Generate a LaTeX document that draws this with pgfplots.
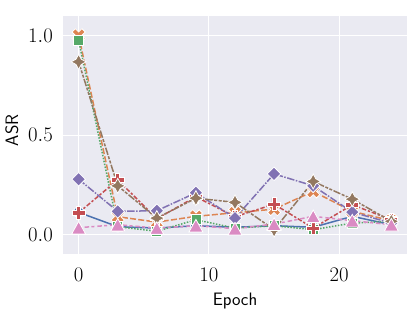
\documentclass[border=0pt]{standalone}
\usepackage{pgfplots}
\pgfplotsset{compat=1.18}
\definecolor{sbblue}{HTML}{4C72B0}
\definecolor{sborange}{HTML}{DD8452}
\definecolor{sbgreen}{HTML}{55A868}
\definecolor{sbred}{HTML}{C44E52}
\definecolor{sbpurple}{HTML}{8172B3}
\definecolor{sbbrown}{HTML}{937860}
\definecolor{sbpink}{HTML}{DA8BC3}
\definecolor{sbbg}{HTML}{EAEAF2}
\pgfdeclareplotmark{Pfill}{%
 \pgfpathmoveto{\pgfpoint{-0.333\pgfplotmarksize}{\pgfplotmarksize}}%
 \pgfpathlineto{\pgfpoint{0.333\pgfplotmarksize}{\pgfplotmarksize}}%
 \pgfpathlineto{\pgfpoint{0.333\pgfplotmarksize}{0.333\pgfplotmarksize}}%
 \pgfpathlineto{\pgfpoint{\pgfplotmarksize}{0.333\pgfplotmarksize}}%
 \pgfpathlineto{\pgfpoint{\pgfplotmarksize}{-0.333\pgfplotmarksize}}%
 \pgfpathlineto{\pgfpoint{0.333\pgfplotmarksize}{-0.333\pgfplotmarksize}}%
 \pgfpathlineto{\pgfpoint{0.333\pgfplotmarksize}{-\pgfplotmarksize}}%
 \pgfpathlineto{\pgfpoint{-0.333\pgfplotmarksize}{-\pgfplotmarksize}}%
 \pgfpathlineto{\pgfpoint{-0.333\pgfplotmarksize}{-0.333\pgfplotmarksize}}%
 \pgfpathlineto{\pgfpoint{-\pgfplotmarksize}{-0.333\pgfplotmarksize}}%
 \pgfpathlineto{\pgfpoint{-\pgfplotmarksize}{0.333\pgfplotmarksize}}%
 \pgfpathlineto{\pgfpoint{-0.333\pgfplotmarksize}{0.333\pgfplotmarksize}}%
 \pgfpathclose\pgfusepathqfillstroke}
\pgfdeclareplotmark{Xfill}{%
 \pgfpathmoveto{\pgfpoint{-0.943\pgfplotmarksize}{0.471\pgfplotmarksize}}%
 \pgfpathlineto{\pgfpoint{-0.471\pgfplotmarksize}{0.943\pgfplotmarksize}}%
 \pgfpathlineto{\pgfpoint{0pt}{0.471\pgfplotmarksize}}%
 \pgfpathlineto{\pgfpoint{0.471\pgfplotmarksize}{0.943\pgfplotmarksize}}%
 \pgfpathlineto{\pgfpoint{0.943\pgfplotmarksize}{0.471\pgfplotmarksize}}%
 \pgfpathlineto{\pgfpoint{0.471\pgfplotmarksize}{0pt}}%
 \pgfpathlineto{\pgfpoint{0.943\pgfplotmarksize}{-0.471\pgfplotmarksize}}%
 \pgfpathlineto{\pgfpoint{0.471\pgfplotmarksize}{-0.943\pgfplotmarksize}}%
 \pgfpathlineto{\pgfpoint{0pt}{-0.471\pgfplotmarksize}}%
 \pgfpathlineto{\pgfpoint{-0.471\pgfplotmarksize}{-0.943\pgfplotmarksize}}%
 \pgfpathlineto{\pgfpoint{-0.943\pgfplotmarksize}{-0.471\pgfplotmarksize}}%
 \pgfpathlineto{\pgfpoint{-0.471\pgfplotmarksize}{0pt}}%
 \pgfpathclose\pgfusepathqfillstroke}
\pgfdeclareplotmark{Dfill}{%
 \pgfpathmoveto{\pgfpoint{0pt}{\pgfplotmarksize}}%
 \pgfpathlineto{\pgfpoint{\pgfplotmarksize}{0pt}}%
 \pgfpathlineto{\pgfpoint{0pt}{-\pgfplotmarksize}}%
 \pgfpathlineto{\pgfpoint{-\pgfplotmarksize}{0pt}}%
 \pgfpathclose\pgfusepathqfillstroke}
\pgfdeclareplotmark{Sfill}{%
 \pgfpathmoveto{\pgfpoint{0pt}{\pgfplotmarksize}}%
 \pgfpathlineto{\pgfpoint{0.354\pgfplotmarksize}{0.354\pgfplotmarksize}}%
 \pgfpathlineto{\pgfpoint{\pgfplotmarksize}{0pt}}%
 \pgfpathlineto{\pgfpoint{0.354\pgfplotmarksize}{-0.354\pgfplotmarksize}}%
 \pgfpathlineto{\pgfpoint{0pt}{-\pgfplotmarksize}}%
 \pgfpathlineto{\pgfpoint{-0.354\pgfplotmarksize}{-0.354\pgfplotmarksize}}%
 \pgfpathlineto{\pgfpoint{-\pgfplotmarksize}{0pt}}%
 \pgfpathlineto{\pgfpoint{-0.354\pgfplotmarksize}{0.354\pgfplotmarksize}}%
 \pgfpathclose\pgfusepathqfillstroke}
\pgfdeclareplotmark{Tfill}{%
 \pgfpathmoveto{\pgfpoint{0pt}{0.9\pgfplotmarksize}}%
 \pgfpathlineto{\pgfpoint{\pgfplotmarksize}{-0.9\pgfplotmarksize}}%
 \pgfpathlineto{\pgfpoint{-\pgfplotmarksize}{-0.9\pgfplotmarksize}}%
 \pgfpathclose\pgfusepathqfillstroke}
\begin{document}
\begin{tikzpicture}
\useasboundingbox (-63pt,-57pt) rectangle (352pt,254pt);
\begin{axis}[
  at={(0pt,0pt)}, anchor=south west,
  scale only axis, width=344pt, height=238pt,
  xmin=-1.2, xmax=25.2, ymin=-0.097, ymax=1.097,
  xtick={0,10,20}, ytick={0,0.5,1.0},
  yticklabel style={/pgf/number format/fixed, /pgf/number format/fixed zerofill, /pgf/number format/precision=1},
  axis background/.style={fill=sbbg},
  axis line style={draw=none},
  major tick length=0pt,
  grid=major, major grid style={white, line width=1pt},
  tick label style={font=\fontsize{21}{21}\selectfont, inner sep=0pt},
  yticklabel style={anchor=east, xshift=-10pt},
  xticklabel style={anchor=north, yshift=-14pt},
  xlabel={Epoch}, ylabel={ASR},
  every axis x label/.style={at={(axis description cs:0.5,0)}, anchor=base, yshift=-51pt, font=\sffamily\fontsize{18}{18}\selectfont},
  every axis y label/.style={at={(axis description cs:0,0.52)}, rotate=90, anchor=center, yshift=51pt, font=\sffamily\fontsize{18}{18}\selectfont},
  every axis plot/.append style={line width=1.5pt},
]
\addplot[sbblue, solid, mark=*, mark size=5.5pt, mark options={solid, fill=sbblue, draw=white, line width=0.8pt}]
 coordinates {(0,0.112)(3,0.04)(6,0.033)(9,0.045)(12,0.037)(15,0.045)(18,0.037)(21,0.092)(24,0.05)};
\addplot[sborange, dash pattern=on 6pt off 2.25pt, mark=Xfill, mark size=7pt, mark options={solid, fill=sborange, draw=white, line width=0.8pt}]
 coordinates {(0,1.0)(3,0.09)(6,0.063)(9,0.092)(12,0.11)(15,0.128)(18,0.217)(21,0.117)(24,0.07)};
\addplot[sbgreen, dash pattern=on 1.5pt off 1.5pt, mark=square*, mark size=5pt, mark options={solid, fill=sbgreen, draw=white, line width=0.8pt}]
 coordinates {(0,0.975)(3,0.04)(6,0.017)(9,0.075)(12,0.033)(15,0.045)(18,0.025)(21,0.058)(24,0.067)};
\addplot[sbred, dash pattern=on 4.5pt off 1.9pt on 2.25pt off 1.9pt, mark=Pfill, mark size=6.5pt, mark options={solid, fill=sbred, draw=white, line width=0.8pt}]
 coordinates {(0,0.11)(3,0.275)(6,0.08)(9,0.19)(12,0.09)(15,0.153)(18,0.033)(21,0.15)(24,0.075)};
\addplot[sbpurple, dash pattern=on 7.5pt off 1.5pt on 1.5pt off 1.5pt, mark=Dfill, mark size=6.8pt, mark options={solid, fill=sbpurple, draw=white, line width=0.8pt}]
 coordinates {(0,0.278)(3,0.117)(6,0.12)(9,0.21)(12,0.083)(15,0.305)(18,0.245)(21,0.113)(24,0.058)};
\addplot[sbbrown, dash pattern=on 7.5pt off 1.5pt on 3pt off 1.5pt on 3pt off 1.5pt, mark=Sfill, mark size=7.5pt, mark options={solid, fill=sbbrown, draw=white, line width=0.8pt}]
 coordinates {(0,0.867)(3,0.245)(6,0.083)(9,0.183)(12,0.162)(15,0.025)(18,0.267)(21,0.178)(24,0.067)};
\addplot[sbpink, dash pattern=on 3pt off 3pt on 4.5pt off 2.25pt, mark=Tfill, mark size=7pt, mark options={solid, fill=sbpink, draw=white, line width=0.8pt}]
 coordinates {(0,0.035)(3,0.05)(6,0.033)(9,0.045)(12,0.03)(15,0.053)(18,0.092)(21,0.07)(24,0.05)};
\end{axis}
\end{tikzpicture}
\end{document}
